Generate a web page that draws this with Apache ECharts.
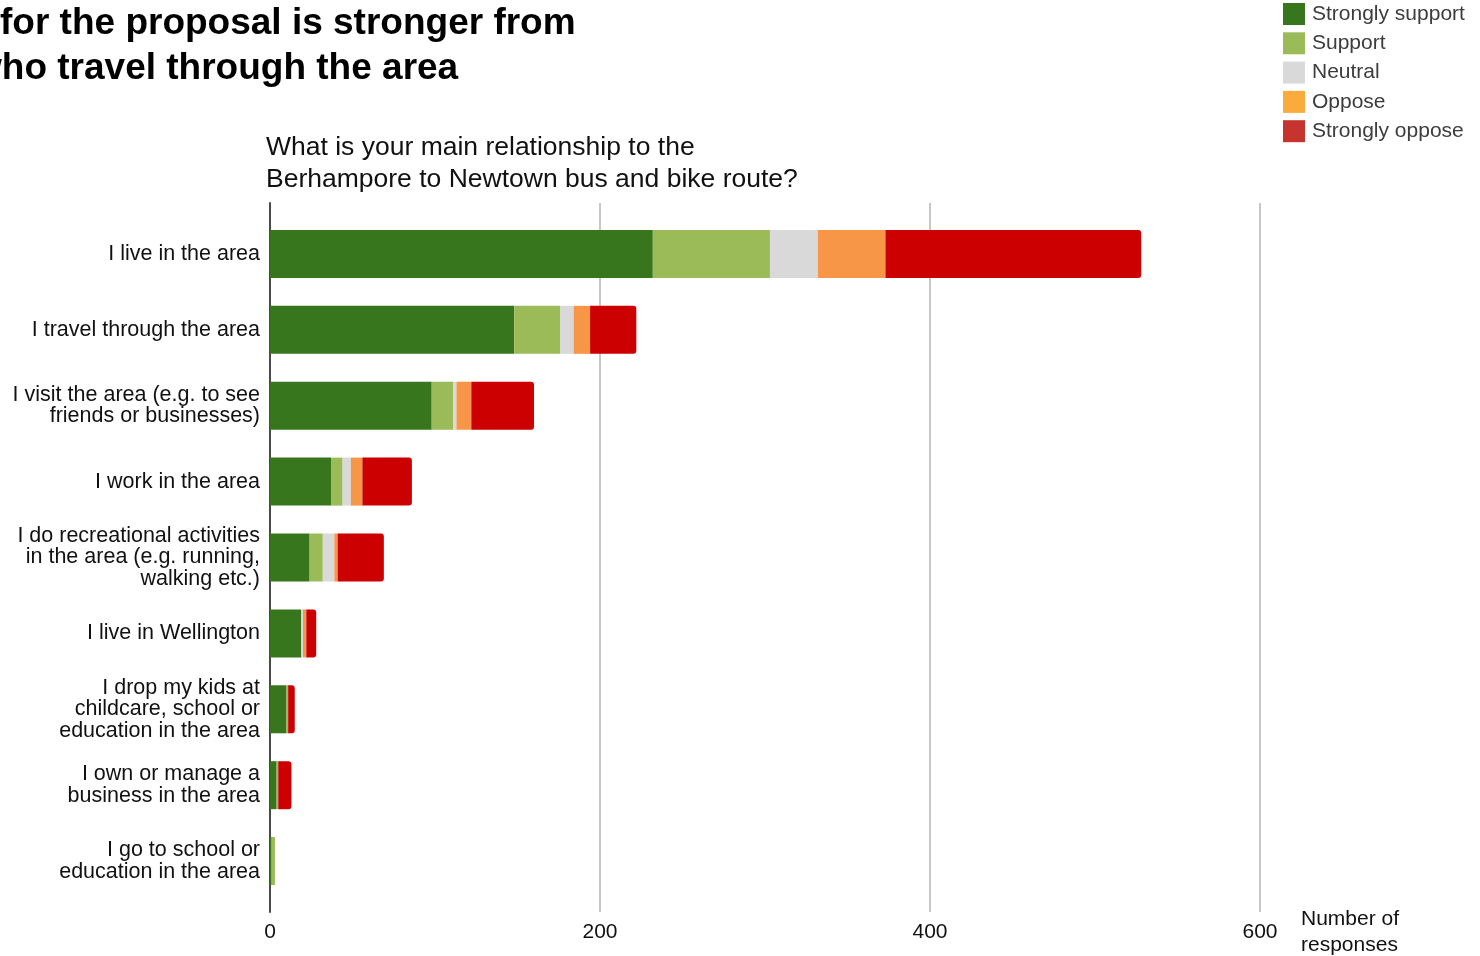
<!DOCTYPE html>
<html>
<head>
<meta charset="utf-8">
<script src="https://cdn.jsdelivr.net/npm/echarts@6/dist/echarts.min.js"></script>
<style>
  html, body { margin: 0; padding: 0; background: #fff; }
  #chart { width: 1480px; height: 956px; }
</style>
</head>
<body>
<div id="chart"></div>
<script>
// Respondent relationship to the route (top to bottom)
const categories = [
  'I live in the area',
  'I travel through the area',
  'I visit the area (e.g. to see\nfriends or businesses)',
  'I work in the area',
  'I do recreational activities\nin the area (e.g. running,\nwalking etc.)',
  'I live in Wellington',
  'I drop my kids at\nchildcare, school or\neducation in the area',
  'I own or manage a\nbusiness in the area',
  'I go to school or\neducation in the area'
];

const stronglySupport = [232, 148, 98, 37, 24, 19, 10, 4, 1];
const support         = [71, 28, 13, 7, 8, 0, 1, 1, 2];
const neutral         = [29, 8, 2, 5, 7, 1, 0, 0, 0];
const oppose          = [41, 10, 9, 7, 2, 2, 0, 0, 0];
const stronglyOppose  = [155, 28, 38, 30, 28, 6, 4, 8, 0];

const xTicks = [0, 200, 400, 600];

const FONT = '"Liberation Sans", Arial, sans-serif';

const seriesDefs = [
  { name: 'Strongly support', data: stronglySupport, color: '#38761d', legendColor: '#38761d' },
  { name: 'Support',          data: support,         color: '#9bbb59', legendColor: '#9bbb59' },
  { name: 'Neutral',          data: neutral,         color: '#d9d9d9', legendColor: '#d9d9d9' },
  { name: 'Oppose',           data: oppose,          color: '#f79646', legendColor: '#fbab3c' },
  { name: 'Strongly oppose',  data: stronglyOppose,  color: '#cc0000', legendColor: '#c5352e' }
];

const chart = echarts.init(document.getElementById('chart'), null, { renderer: 'canvas' });

const option = {
  backgroundColor: '#ffffff',
  animation: false,
  textStyle: { fontFamily: FONT },
  legend: {
    orient: 'vertical',
    left: 1278,
    top: -2,
    itemWidth: 22,
    itemHeight: 22,
    itemGap: 7.3,
    icon: 'rect',
    selectedMode: false,
    textStyle: { fontFamily: FONT, fontSize: 21, color: '#3c3c3c', padding: [0, 0, 0, 2] },
    data: seriesDefs.map(s => ({ name: s.name, itemStyle: { color: s.legendColor } }))
  },
  grid: [
    // frame: gridlines, tick labels and the left axis line
    { left: 270, width: 990, top: 203, height: 709 },
    // bars
    { left: 270, width: 990, top: 216, height: 683 }
  ],
  xAxis: [
    {
      gridIndex: 0, type: 'value', min: xTicks[0], max: xTicks[xTicks.length - 1], interval: 200,
      axisLine: { show: false }, axisTick: { show: false },
      splitLine: { show: true, lineStyle: { color: '#b4b4b4', width: 1.5 } },
      axisLabel: { fontFamily: FONT, fontSize: 21, color: '#111', margin: 10 }
    },
    {
      gridIndex: 1, type: 'value', min: xTicks[0], max: xTicks[xTicks.length - 1],
      show: false, splitLine: { show: false }
    }
  ],
  yAxis: [
    {
      gridIndex: 0, type: 'category', data: [''],
      axisLine: { show: true, lineStyle: { color: '#4a4a4a', width: 2 } },
      axisTick: { show: false }, axisLabel: { show: false }, splitLine: { show: false }
    },
    {
      gridIndex: 1, type: 'category', data: categories, inverse: true,
      axisLine: { show: false }, axisTick: { show: false },
      axisLabel: { fontFamily: FONT, fontSize: 21.5, color: '#111', margin: 10, lineHeight: 21.5, align: 'right' }
    }
  ],
  series: seriesDefs.map((s, i) => ({
    name: s.name,
    type: 'bar',
    stack: 'total',
    xAxisIndex: 1,
    yAxisIndex: 1,
    barWidth: 48,
    data: s.data,
    itemStyle: {
      color: s.color,
      borderRadius: i === seriesDefs.length - 1 ? [0, 3, 3, 0] : 0
    }
  })),
  graphic: [
    {
      // first title line sits flush with the left edge
      type: 'text', position: [0, 5],
      style: {
        text: 'for the proposal is stronger from',
        fontFamily: FONT, fontSize: 37, fontWeight: 'bold', fill: '#000'
      }
    },
    {
      type: 'text', position: [-27, 50],
      style: {
        text: 'who travel through the area',
        fontFamily: FONT, fontSize: 37, fontWeight: 'bold', fill: '#000'
      }
    },
    {
      type: 'text', position: [266, 132],
      style: {
        text: 'What is your main relationship to the\nBerhampore to Newtown bus and bike route?',
        fontFamily: FONT, fontSize: 26.5, lineHeight: 32, fill: '#111'
      }
    },
    {
      type: 'text', position: [1301, 906],
      style: {
        text: 'Number of\nresponses',
        fontFamily: FONT, fontSize: 21, lineHeight: 26, fill: '#111'
      }
    }
  ]
};

chart.setOption(option);
</script>
</body>
</html>
